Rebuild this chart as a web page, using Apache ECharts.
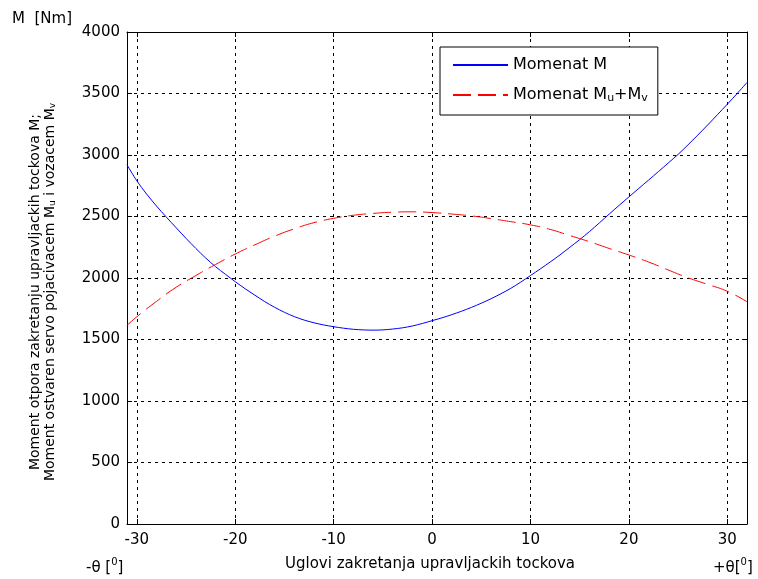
<!DOCTYPE html>
<html lang="en">
<head>
        <meta charset="UTF-8">
        <title>Momenat M</title>
        <style>
                body { margin: 0; background: #fff; }
                .chart { width: 758px; height: 579px; }
        </style>
</head>
<body>
<div id="main" class="chart"></div>

<script src="https://cdn.jsdelivr.net/npm/echarts@6/dist/echarts.min.js"></script>
<script>

        // ugao (stepeni) i momenti ocitani sa slike
        var thetaM = [-31, -30, -29, -28, -27, -26, -25, -24, -23, -22, -21, -20, -19, -18, -17, -16,
                -15, -14, -13, -12, -11, -10, -9, -8, -7, -6, -5, -4, -3, -2, -1, 0,
                1, 2, 3, 4, 5, 6, 7, 8, 9, 10, 11, 12, 13, 14, 15, 16,
                17, 18, 19, 20, 21, 22, 23, 24, 25, 26, 27, 28, 29, 30, 31, 32];
        var momentM = [2920, 2790, 2682, 2585, 2495, 2408, 2322, 2240, 2162, 2092, 2030, 1970, 1913, 1860, 1808, 1762,
                1721, 1686, 1658, 1636, 1618, 1604, 1592, 1583, 1578, 1576, 1578, 1585, 1595, 1610, 1630, 1653,
                1676, 1702, 1730, 1761, 1795, 1832, 1872, 1916, 1966, 2020, 2074, 2130, 2188, 2250, 2312, 2378,
                2448, 2520, 2590, 2659, 2728, 2796, 2865, 2935, 3005, 3082, 3162, 3244, 3328, 3413, 3500, 3590];

        var thetaMuv = [-31, -30, -28, -26, -24, -22, -20, -18, -16, -14, -12, -10, -8, -6, -4, -2, 0,
                2, 4, 6, 8, 10, 12, 14, 16, 18, 20, 22, 24, 26, 28, 30, 32];
        var momentMuv = [1615, 1685, 1810, 1925, 2020, 2110, 2195, 2270, 2340, 2400, 2450, 2485, 2510, 2525, 2535, 2538, 2532,
                2520, 2505, 2483, 2458, 2432, 2395, 2345, 2295, 2240, 2187, 2130, 2065, 2002, 1948, 1892, 1807];

        var xTicks = [-30, -20, -10, 0, 10, 20, 30];
        var seriesNames = ['Momenat M', 'Momenat Mu+Mv'];

        var font = 'DejaVu Sans';

        function pairs(xs, ys) {
                var out = [];
                for(var i = 0; i < xs.length; i++) {
                        out.push([xs[i], ys[i]]);
                }
                return out;
        }

        var myChart = echarts.init(document.getElementById('main'), null, {renderer: 'canvas'});

        var subStyle = {fontFamily: font, fontSize: 11, color: '#000', verticalAlign: 'bottom', padding: [7, 0, 0, 0]};
        var supStyle = {fontFamily: font, fontSize: 10, fill: '#000', verticalAlign: 'top', padding: [0, 0, 12, 0]};

        var option = {
                backgroundColor: '#fff',
                animation: false,
                grid: {left: 127, right: 11, top: 32, bottom: 55, containLabel: false},
                xAxis: [{
                        type: 'value',
                        min: -31,
                        max: 32,
                        position: 'bottom',
                        axisLine: {onZero: false, lineStyle: {color: '#000', width: 1}},
                        axisTick: {show: true, inside: true, length: 5, customValues: xTicks, lineStyle: {color: '#000'}},
                        axisLabel: {customValues: xTicks, margin: 9, color: '#000', fontFamily: font, fontSize: 15},
                        splitLine: {show: true, lineStyle: {color: '#000', type: [3, 4], width: 1}}
                }, {
                        type: 'value',
                        min: -31,
                        max: 32,
                        position: 'top',
                        axisLine: {show: true, onZero: false, lineStyle: {color: '#000', width: 1}},
                        axisTick: {show: true, inside: true, length: 5, customValues: xTicks, lineStyle: {color: '#000'}},
                        axisLabel: {show: false},
                        splitLine: {show: false}
                }],
                yAxis: [{
                        type: 'value',
                        min: 0,
                        max: 4000,
                        interval: 500,
                        position: 'left',
                        axisLine: {show: true, onZero: false, lineStyle: {color: '#000', width: 1}},
                        axisTick: {show: true, inside: true, length: 5, lineStyle: {color: '#000'}},
                        axisLabel: {
                                margin: 7, color: '#000', fontFamily: font, fontSize: 15,
                                formatter: function(v) { return String(v); }
                        },
                        splitLine: {show: true, lineStyle: {color: '#000', type: [3, 4], width: 1}}
                }, {
                        type: 'value',
                        min: 0,
                        max: 4000,
                        interval: 500,
                        position: 'right',
                        axisLine: {show: true, onZero: false, lineStyle: {color: '#000', width: 1}},
                        axisTick: {show: true, inside: true, length: 5, lineStyle: {color: '#000'}},
                        axisLabel: {show: false},
                        splitLine: {show: false}
                }],
                legend: {
                        orient: 'vertical',
                        left: 440,
                        top: 47,
                        itemWidth: 55,
                        itemHeight: 14,
                        itemGap: 14,
                        padding: [10, 10, 11, 12],
                        backgroundColor: '#fff',
                        borderColor: '#000',
                        borderWidth: 1,
                        borderRadius: 0,
                        itemStyle: {opacity: 0},
                        data: seriesNames,
                        formatter: function(name) {
                                if(name == seriesNames[1]) {
                                        return 'Momenat M{sub|u}+M{sub|v}';
                                }
                                return name;
                        },
                        textStyle: {
                                fontFamily: font,
                                fontSize: 16,
                                color: '#000',
                                rich: {sub: subStyle}
                        }
                },
                graphic: [{
                        type: 'text',
                        left: 12,
                        top: 12,
                        style: {text: 'M  [Nm]', font: '15px "DejaVu Sans"', fill: '#000'}
                }, {
                        type: 'text',
                        x: 35,
                        y: 292,
                        rotation: Math.PI / 2,
                        style: {
                                text: 'Moment otpora zakretanju upravljackih tockova M;',
                                font: '14px "DejaVu Sans"',
                                fill: '#000',
                                align: 'center',
                                verticalAlign: 'middle'
                        }
                }, {
                        type: 'text',
                        x: 50,
                        y: 292,
                        rotation: Math.PI / 2,
                        style: {
                                text: 'Moment ostvaren servo pojacivacem M{s|u} i vozacem M{s|v}',
                                font: '14px "DejaVu Sans"',
                                fill: '#000',
                                align: 'center',
                                verticalAlign: 'middle',
                                rich: {s: {fontFamily: font, fontSize: 9, fill: '#000', verticalAlign: 'bottom', padding: [6, 0, 0, 0]}}
                        }
                }, {
                        type: 'text',
                        x: 430,
                        y: 564,
                        style: {
                                text: 'Uglovi zakretanja upravljackih tockova',
                                font: '15px "DejaVu Sans"',
                                fill: '#000',
                                align: 'center',
                                verticalAlign: 'middle'
                        }
                }, {
                        type: 'text',
                        x: 86,
                        y: 568,
                        style: {
                                text: '-θ [{p|0}]',
                                font: '15px "DejaVu Sans"',
                                fill: '#000',
                                verticalAlign: 'middle',
                                rich: {p: supStyle}
                        }
                }, {
                        type: 'text',
                        x: 713,
                        y: 568,
                        style: {
                                text: '+θ[{p|0}]',
                                font: '15px "DejaVu Sans"',
                                fill: '#000',
                                verticalAlign: 'middle',
                                rich: {p: supStyle}
                        }
                }],
                series: [{
                        name: seriesNames[0],
                        type: 'line',
                        data: pairs(thetaM, momentM),
                        showSymbol: false,
                        symbol: 'none',
                        smooth: 0.3,
                        lineStyle: {color: '#0000ff', width: 1},
                        itemStyle: {color: '#0000ff'},
                        z: 3
                }, {
                        name: seriesNames[1],
                        type: 'line',
                        data: pairs(thetaMuv, momentMuv),
                        showSymbol: false,
                        symbol: 'none',
                        smooth: true,
                        lineStyle: {color: '#ff0000', width: 1, type: [18, 7]},
                        itemStyle: {color: '#ff0000'},
                        z: 3
                }]
        };

        myChart.setOption(option);

</script>
</body>
</html>
